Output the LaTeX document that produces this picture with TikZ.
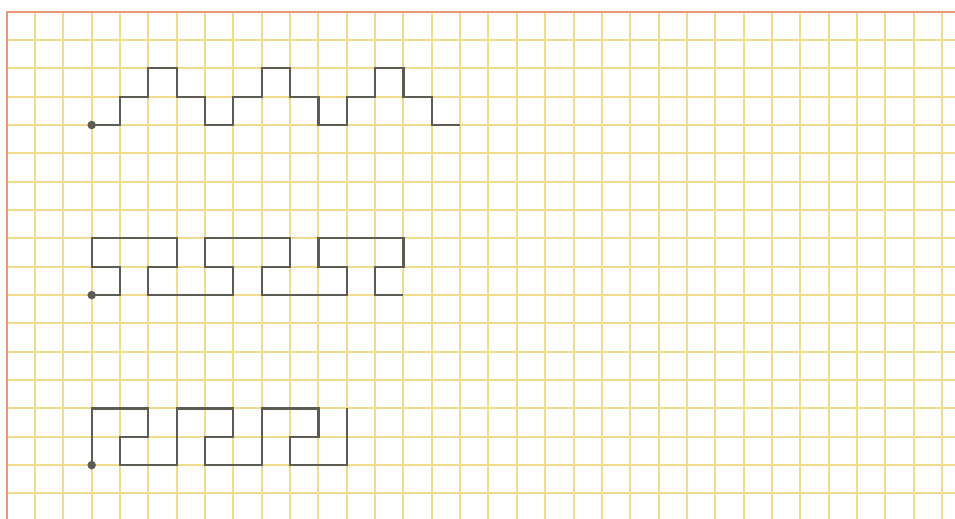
\documentclass[tikz,border=0pt]{standalone}
\definecolor{gridyellow}{RGB}{240,220,140}
\definecolor{edgesalmon}{RGB}{236,150,120}
\definecolor{penline}{RGB}{92,92,84}
\begin{document}
\begin{tikzpicture}[x=0.5cm, y=-0.5cm,
  gridline/.style={draw=gridyellow,line width=1pt},
  edgeline/.style={draw=edgesalmon,line width=1.1pt},
  figline/.style={draw=penline,line width=1.1pt,line join=miter},
  startdot/.style={circle,fill=penline,inner sep=0pt,minimum size=1.5mm}]
\useasboundingbox (-1.235,-1.411) rectangle (32.46,16.90);
\fill[white] (-1.235,-1.411) rectangle (32.46,16.90);
% squared paper
\foreach \i in {0,...,33} \draw[gridline] (\i,-1) -- (\i,17.3);
\foreach \j in {0,...,17} \draw[gridline] (-1,\j) -- (33,\j);
\draw[edgeline] (33,-1) -- (-1,-1) -- (-1,17.3);
% start points
\node[startdot] (s1) at (2,3) {};
\node[startdot] (s2) at (2,9) {};
\node[startdot] (s3) at (2,15) {};
% first figure
\draw[figline] (s1.center) -- (3,3) -- (3,2) -- (4,2) -- (4,1) -- (5,1) -- (5,2) -- (6,2) -- (6,3)
  -- (7,3) -- (7,2) -- (8,2) -- (8,1) -- (9,1) -- (9,2) -- (10,2) -- (10,3)
  -- (11,3) -- (11,2) -- (12,2) -- (12,1) -- (13,1) -- (13,2) -- (14,2) -- (14,3) -- (15,3);
% second figure
\draw[figline] (s2.center) -- (3,9) -- (3,8) -- (2,8) -- (2,7) -- (5,7) -- (5,8) -- (4,8) -- (4,9)
  -- (7,9) -- (7,8) -- (6,8) -- (6,7) -- (9,7) -- (9,8) -- (8,8) -- (8,9)
  -- (11,9) -- (11,8) -- (10,8) -- (10,7) -- (13,7) -- (13,8) -- (12,8) -- (12,9) -- (13,9);
% third figure
\draw[figline] (s3.center) -- (2,13) -- (4,13) -- (4,14) -- (3,14) -- (3,15) -- (5,15)
  -- (5,13) -- (7,13) -- (7,14) -- (6,14) -- (6,15) -- (8,15)
  -- (8,13) -- (10,13) -- (10,14) -- (9,14) -- (9,15) -- (11,15) -- (11,13);
\end{tikzpicture}
\end{document}
